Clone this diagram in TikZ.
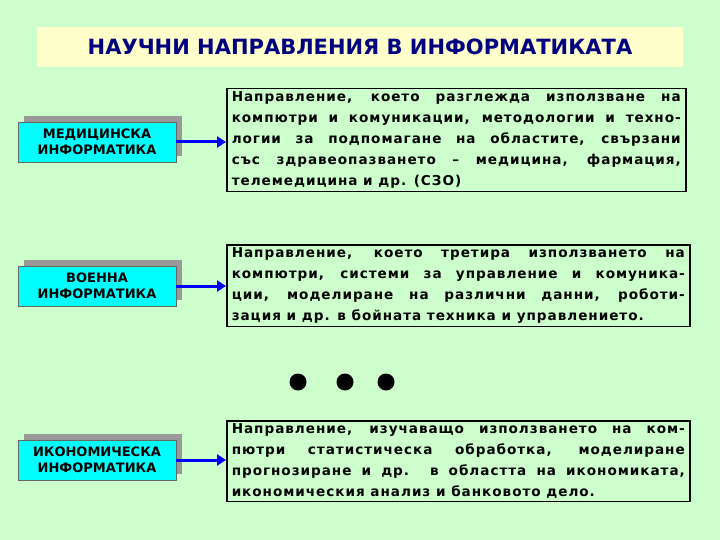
\documentclass[tikz,border=0pt]{standalone}
\usepackage{fontspec}
\setmainfont{DejaVu Sans}
\newfontfamily\bodyfont[LetterSpace=7]{DejaVu Sans}
\usetikzlibrary{arrows.meta}
\definecolor{bg}{HTML}{CCFFCC}
\definecolor{ttl}{HTML}{FFFFCC}
\definecolor{navy}{HTML}{000080}
\definecolor{cy}{HTML}{00FFFF}
\definecolor{shd}{HTML}{999999}
\tikzset{
 lbox/.style={draw=black!60,fill=cy,minimum width=158pt,minimum height=40pt,align=center,font=\fontsize{13}{16}\selectfont\bfseries,inner sep=0pt},
 sbox/.style={fill=shd,minimum width=158pt,minimum height=40pt,inner sep=0pt},
 rbox/.style={draw=black,line width=1.5pt,fill=bg,anchor=north west,inner xsep=5pt,inner ysep=3pt,font=\bodyfont\fontsize{13.6}{21}\selectfont\bfseries},
 arr/.style={draw=blue,line width=3pt,-{Triangle[length=9pt,width=11pt]}},
 dot/.style={circle,fill=black,minimum size=17pt,inner sep=0pt}
}
\begin{document}
\begin{tikzpicture}[x=1pt,y=-1pt]
\useasboundingbox[fill=bg] (0,0) rectangle (720,540);
\node[fill=ttl,minimum width=646pt,minimum height=40pt,font=\fontsize{21}{24}\selectfont\bfseries,text=navy] (title) at (360,47) {НАУЧНИ НАПРАВЛЕНИЯ В ИНФОРМАТИКАТА};
\node[sbox] (s1) at (103,136) {};
\node[lbox] (l1) at (97,142) {МЕДИЦИНСКА\\ИНФОРМАТИКА};
\node[sbox] (s2) at (103,280) {};
\node[lbox] (l2) at (97,286) {ВОЕННА\\ИНФОРМАТИКА};
\node[sbox] (s3) at (103,454) {};
\node[lbox] (l3) at (97,460) {ИКОНОМИЧЕСКА\\ИНФОРМАТИКА};
\node[rbox] (r1) at (226,88) {\parbox{449pt}{Направление, което разглежда използване на\linebreak компютри и комуникации, методологии и техно-\linebreak логии за подпомагане на областите, свързани\linebreak със здравеопазването – медицина, фармация,\linebreak телемедицина и др. (СЗО)}};
\node[rbox] (r2) at (226,244) {\parbox{453pt}{Направление, което третира използването на\linebreak компютри, системи за управление и комуника-\linebreak ции, моделиране на различни данни, роботи-\linebreak зация и др. в бойната техника и управлението.}};
\node[rbox] (r3) at (226,420) {\parbox{453pt}{Направление, изучаващо използването на ком-\linebreak пютри статистическа обработка, моделиране\linebreak прогнозиране и др. в областта на икономиката,\linebreak икономическия анализ и банковото дело.}};
\draw[arr] (l1.east) -- (r1.west|-l1.east);
\draw[arr] (l2.east) -- (r2.west|-l2.east);
\draw[arr] (l3.east) -- (r3.west|-l3.east);
\node[dot] (d1) at (298,382) {};
\node[dot] (d2) at (345,382) {};
\node[dot] (d3) at (386,382) {};
\end{tikzpicture}
\end{document}
